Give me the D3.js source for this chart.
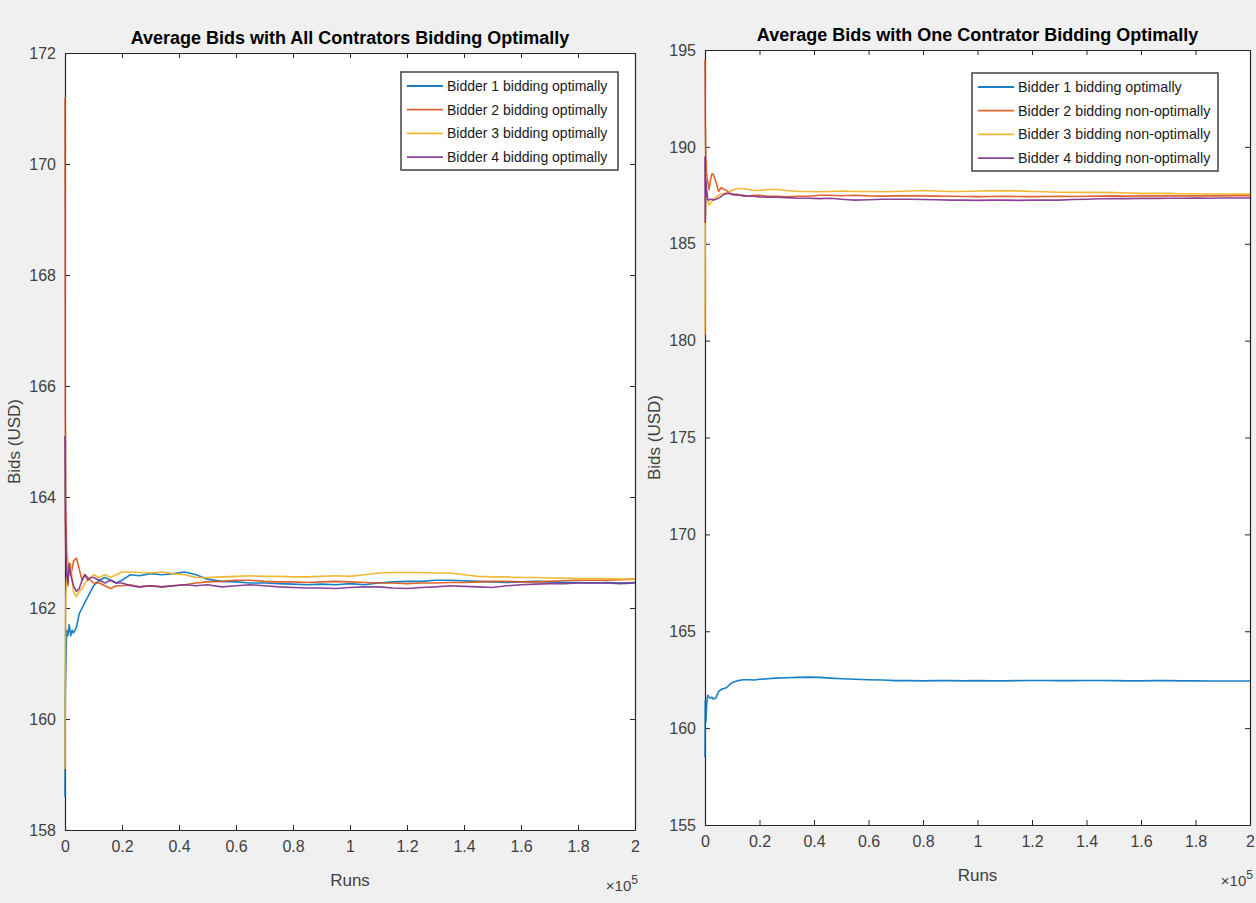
<!DOCTYPE html>
<html><head><meta charset="utf-8">
<script src="https://cdn.jsdelivr.net/npm/d3@7"></script>
<style>
html,body{margin:0;padding:0;background:#f0f0f0;}
svg{display:block;font-family:"Liberation Sans",Arial,sans-serif;}
</style></head>
<body>
<svg id="chart" width="1256" height="903"></svg>
<script>
// ---- data ----
const runs = [0,100,300,600,1000,1500,2000,2500,3000,4000,5000,6000,7000,8000,9000,10000,12000,14000,16000,18000,20000,23000,26000,30000,34000,38000,42000,46000,50000,55000,
  60000,65000,70000,75000,80000,85000,90000,95000,100000,105000,110000,115000,120000,125000,130000,135000,140000,145000,150000,155000,160000,165000,170000,175000,180000,185000,190000,195000,200000];

const xTicks = [0,20000,40000,60000,80000,100000,120000,140000,160000,180000,200000];
const xTickLabels = ["0","0.2","0.4","0.6","0.8","1","1.2","1.4","1.6","1.8","2"];
const yTicksLeft = [158,160,162,164,166,168,170,172];
const yTicksRight = [155,160,165,170,175,180,185,190,195];

const titleLeft = "Average Bids with All Contrators Bidding Optimally";
const titleRight = "Average Bids with One Contrator Bidding Optimally";
const namesLeft = ["Bidder 1 bidding optimally","Bidder 2 bidding optimally","Bidder 3 bidding optimally","Bidder 4 bidding optimally"];
const namesRight = ["Bidder 1 bidding optimally","Bidder 2 bidding non-optimally","Bidder 3 bidding non-optimally","Bidder 4 bidding non-optimally"];
const colors = ["#0072BD","#D95319","#EDB120","#7E2F8E"];

// left panel: all bidders optimal
const left1 = [158.6,160.4,161.0,161.6,161.5,161.7,161.5,161.6,161.55,161.65,161.9,162.0,162.1,162.2,162.3,162.4,162.5,162.55,162.5,162.45,162.5,162.6,162.58,162.62,162.6,162.62,162.65,162.6,162.52,162.48,
  162.47,162.45,162.45,162.44,162.43,162.42,162.43,162.42,162.44,162.42,162.45,162.47,162.48,162.48,162.5,162.5,162.49,162.48,162.47,162.46,162.47,162.48,162.47,162.46,162.46,162.45,162.46,162.45,162.46];
const left2 = [171.2,165.5,163.8,163.0,162.4,162.8,162.6,162.7,162.85,162.9,162.7,162.5,162.6,162.55,162.5,162.45,162.45,162.4,162.35,162.4,162.4,162.42,162.38,162.4,162.38,162.4,162.42,162.45,162.47,162.48,
  162.5,162.5,162.48,162.47,162.47,162.46,162.47,162.48,162.47,162.46,162.45,162.45,162.44,162.45,162.45,162.46,162.46,162.47,162.48,162.48,162.47,162.47,162.48,162.49,162.5,162.5,162.5,162.51,162.52];
const left3 = [159.1,161.0,162.2,162.6,162.9,162.6,162.8,162.5,162.3,162.2,162.3,162.35,162.45,162.5,162.55,162.6,162.55,162.6,162.55,162.6,162.65,162.65,162.64,162.63,162.65,162.62,162.6,162.55,162.55,162.56,
  162.57,162.58,162.57,162.57,162.56,162.56,162.57,162.58,162.57,162.6,162.63,162.64,162.64,162.64,162.63,162.63,162.6,162.57,162.56,162.56,162.55,162.55,162.54,162.54,162.53,162.53,162.53,162.52,162.52];
const left4 = [165.1,163.6,163.0,162.6,162.45,162.8,162.6,162.5,162.4,162.3,162.35,162.5,162.6,162.5,162.55,162.55,162.5,162.45,162.5,162.45,162.45,162.4,162.38,162.4,162.38,162.4,162.42,162.4,162.42,162.38,
  162.4,162.42,162.4,162.38,162.37,162.36,162.36,162.35,162.37,162.38,162.38,162.36,162.35,162.37,162.38,162.4,162.39,162.38,162.37,162.4,162.42,162.43,162.44,162.44,162.45,162.45,162.45,162.44,162.45];

// right panel: one bidder optimal
const right1 = [158.5,161.4,160.3,161.2,161.7,161.6,161.55,161.6,161.5,161.55,161.9,162.0,162.05,162.1,162.25,162.35,162.45,162.5,162.5,162.48,162.52,162.55,162.58,162.6,162.62,162.63,162.62,162.58,162.55,162.52,
  162.5,162.48,162.45,162.45,162.44,162.45,162.45,162.44,162.45,162.44,162.44,162.45,162.46,162.46,162.45,162.45,162.46,162.46,162.45,162.44,162.44,162.45,162.45,162.44,162.44,162.43,162.43,162.43,162.43];
const right2 = [194.5,191.5,189.6,188.6,188.2,187.8,188.3,188.6,188.6,188.2,187.7,187.9,187.8,187.75,187.6,187.55,187.55,187.45,187.45,187.5,187.5,187.45,187.45,187.42,187.45,187.45,187.5,187.5,187.48,187.5,
  187.47,187.46,187.47,187.48,187.47,187.46,187.45,187.44,187.43,187.44,187.45,187.44,187.43,187.44,187.45,187.44,187.45,187.46,187.47,187.46,187.47,187.48,187.47,187.48,187.47,187.48,187.47,187.48,187.48];
const right3 = [180.3,186.2,187.3,187.6,187.2,187.0,187.1,187.2,187.3,187.4,187.5,187.55,187.6,187.6,187.7,187.75,187.85,187.85,187.8,187.75,187.75,187.8,187.8,187.75,187.7,187.7,187.68,187.7,187.72,187.7,
  187.7,187.68,187.7,187.72,187.75,187.72,187.7,187.7,187.72,187.73,187.74,187.73,187.7,187.68,187.66,187.65,187.66,187.65,187.64,187.62,187.6,187.6,187.6,187.58,187.58,187.57,187.57,187.56,187.56];
const right4 = [189.5,186.1,188.3,187.8,187.3,187.25,187.3,187.3,187.25,187.3,187.35,187.45,187.55,187.6,187.6,187.55,187.5,187.5,187.45,187.45,187.42,187.4,187.4,187.38,187.35,187.35,187.33,187.35,187.3,187.25,
  187.27,187.3,187.3,187.3,187.28,187.27,187.25,187.25,187.24,187.25,187.25,187.24,187.25,187.26,187.25,187.28,187.3,187.32,187.33,187.33,187.34,187.34,187.35,187.35,187.36,187.35,187.36,187.36,187.36];

// ---- drawing ----
const svg = d3.select("#chart");

function panel(cfg){
  const {x0,x1,y0,y1,domainY,yTicks,title,names,series,legend,titleY} = cfg;
  const x = d3.scaleLinear().domain([0,200000]).range([x0,x1]);
  const y = d3.scaleLinear().domain(domainY).range([y1,y0]);
  const g = svg.append("g");
  g.append("rect").attr("x",x0).attr("y",y0).attr("width",x1-x0).attr("height",y1-y0).attr("fill","#fff");

  const tickCol = "#262626";
  const FF = "Liberation Sans, Arial, sans-serif";
  const ax = g.append("g").attr("transform",`translate(0,${y1})`)
    .call(d3.axisBottom(x).tickValues(xTicks).tickFormat((d,i)=>xTickLabels[i]).tickSizeInner(-5).tickSizeOuter(0).tickPadding(11));
  const axT = g.append("g").attr("transform",`translate(0,${y0})`)
    .call(d3.axisTop(x).tickValues(xTicks).tickFormat("").tickSizeInner(-5).tickSizeOuter(0));
  const ay = g.append("g").attr("transform",`translate(${x0},0)`)
    .call(d3.axisLeft(y).tickValues(yTicks).tickFormat(d3.format("d")).tickSizeInner(-5).tickSizeOuter(0).tickPadding(9));
  const ayR = g.append("g").attr("transform",`translate(${x1},0)`)
    .call(d3.axisRight(y).tickValues(yTicks).tickFormat("").tickSizeInner(-5).tickSizeOuter(0));
  [ax,axT,ay,ayR].forEach(a=>{
    a.selectAll("path.domain").attr("stroke",tickCol).attr("stroke-width",1.2);
    a.selectAll("line").attr("stroke",tickCol);
    a.selectAll("text").attr("fill","#404040").attr("font-size",16).attr("font-family",FF);
  });

  // lines drawn over the axes, like the reference
  const clipId = "clip"+x0;
  svg.append("clipPath").attr("id",clipId).append("rect").attr("x",x0-2).attr("y",y0).attr("width",x1-x0+2).attr("height",y1-y0);
  const line = d3.line().x((d,i)=>x(runs[i])).y(d=>y(d));
  const lg = g.append("g").attr("clip-path",`url(#${clipId})`);
  series.forEach((s,i)=>{
    lg.append("path").attr("d",line(s)).attr("fill","none").attr("stroke",colors[i])
      .attr("stroke-width",1.6).attr("stroke-linejoin","round").attr("stroke-opacity",0.9);
  });

  // title
  g.append("text").attr("x",(x0+x1)/2).attr("y",titleY).attr("text-anchor","middle")
    .attr("font-weight","bold").attr("font-size",18).attr("fill","#000").text(title);
  // x label
  g.append("text").attr("x",(x0+x1)/2).attr("y",y1+56).attr("text-anchor","middle")
    .attr("font-size",17).attr("fill","#404040").text("Runs");
  // exponent
  const ex = g.append("text").attr("x",x1+3).attr("y",y1+61).attr("text-anchor","end").attr("font-size",15).attr("fill","#404040");
  ex.append("tspan").text("\u00d710");
  ex.append("tspan").attr("dy","-7").attr("font-size",12).text("5");
  // y label
  g.append("text").attr("transform",`translate(${cfg.ylabX},${(y0+y1)/2}) rotate(-90)`)
    .attr("text-anchor","middle").attr("font-size",17).attr("fill","#404040").text("Bids (USD)");

  // legend
  const L = legend;
  const leg = g.append("g");
  leg.append("rect").attr("x",L.x).attr("y",L.y).attr("width",L.w).attr("height",L.h)
    .attr("fill","#fff").attr("stroke","#4d4d4d").attr("stroke-width",1.6);
  names.forEach((n,i)=>{
    const yy = L.y + 14 + i*23.7;
    leg.append("line").attr("x1",L.x+6).attr("x2",L.x+42).attr("y1",yy).attr("y2",yy)
      .attr("stroke",colors[i]).attr("stroke-width",1.8).attr("stroke-opacity",0.9);
    leg.append("text").attr("x",L.x+46).attr("y",yy).attr("dy","0.35em").attr("font-size",L.fs)
      .attr("fill","#1a1a1a").text(n);
  });
}

panel({x0:65,x1:635,y0:53,y1:830,domainY:[158,172],yTicks:yTicksLeft,title:titleLeft,names:namesLeft,
  series:[left1,left2,left3,left4],legend:{x:401,y:72,w:217,h:98,fs:14},titleY:44,ylabX:20});
panel({x0:705,x1:1250,y0:50,y1:825,domainY:[155,195],yTicks:yTicksRight,title:titleRight,names:namesRight,
  series:[right1,right2,right3,right4],legend:{x:972,y:73,w:246,h:98,fs:14.3},titleY:41,ylabX:660});
</script>
</body></html>
